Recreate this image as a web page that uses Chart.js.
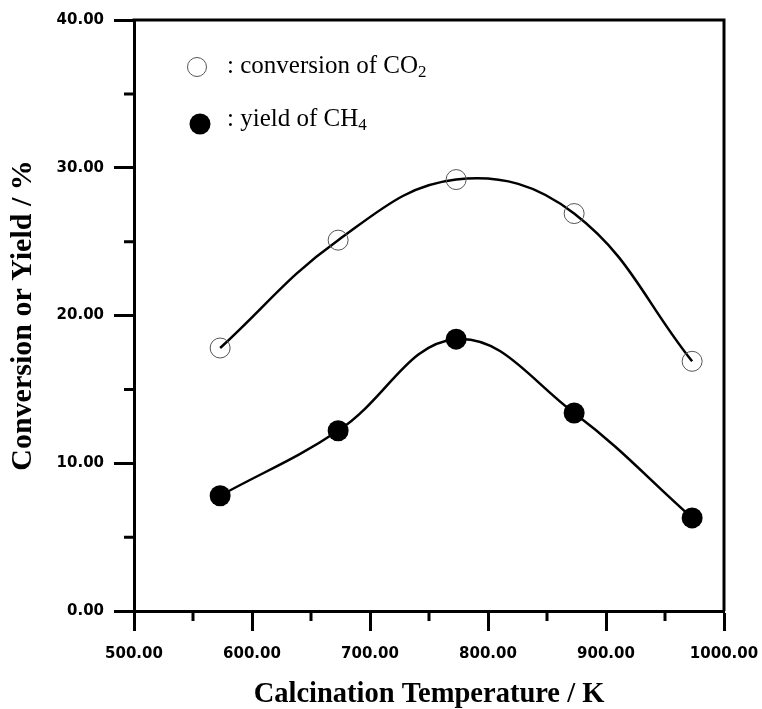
<!DOCTYPE html>
<html lang="en">
<head>
  <meta charset="UTF-8">
  <title>Conversion and Yield vs Calcination Temperature</title>
  <style>
    body {
      margin: 0;
      background: #fff;
    }
    #chart {
      display: block;
    }
  </style>
</head>
<body>
  <canvas id="chart" width="762" height="709"></canvas>

  <script src="https://cdn.jsdelivr.net/npm/chart.js"></script>
  <script>
    // calcination temperature (K) and the measured values (%)
    const temperatures = [573, 673, 773, 873, 973];
    const co2Conversion = [17.8, 25.1, 29.2, 26.9, 16.9];
    const ch4Yield = [7.8, 12.2, 18.4, 13.4, 6.3];

    // axis ticks
    const xMajorTicks = [500, 600, 700, 800, 900, 1000];
    const xMinorTicks = [550, 650, 750, 850, 950];
    const yMajorTicks = [0, 10, 20, 30, 40];
    const yMinorTicks = [5, 15, 25, 35];

    // legend rows: main text + subscript
    const legendLabels = [': conversion of CO', ': yield of CH'];
    const legendSubs = ['2', '4'];

    const toPoints = (ys) => temperatures.map((t, i) => ({ x: t, y: ys[i] }));

    // small ticks between the labelled ones, plus the top / right sides of the box
    const frameAndMinorTicks = {
      id: 'frameAndMinorTicks',
      afterDraw(chart) {
        const { ctx, chartArea: a, scales } = chart;
        ctx.save();
        ctx.strokeStyle = '#000';
        ctx.lineWidth = 3;
        ctx.lineCap = 'butt';
        ctx.beginPath();
        ctx.moveTo(a.left - 1.5, a.top);
        ctx.lineTo(a.right, a.top);
        ctx.lineTo(a.right, a.bottom);
        xMinorTicks.forEach(v => {
          const px = scales.x.getPixelForValue(v);
          ctx.moveTo(px, a.bottom);
          ctx.lineTo(px, a.bottom + 10);
        });
        yMinorTicks.forEach(v => {
          const py = scales.y.getPixelForValue(v);
          ctx.moveTo(a.left - 10, py);
          ctx.lineTo(a.left, py);
        });
        ctx.stroke();
        ctx.restore();
      }
    };

    // legend inside the plot, drawn by hand because of the subscripts
    const insideLegend = {
      id: 'insideLegend',
      afterDraw(chart) {
        const { ctx } = chart;
        const rows = [
          { cx: 197, cy: 67, base: 73, filled: false },
          { cx: 200, cy: 124, base: 126, filled: true }
        ];
        ctx.save();
        rows.forEach((r, i) => {
          ctx.beginPath();
          ctx.arc(r.cx, r.cy, r.filled ? 10.5 : 9.5, 0, Math.PI * 2);
          if (r.filled) {
            ctx.fillStyle = '#000';
            ctx.fill();
          } else {
            ctx.strokeStyle = '#555';
            ctx.lineWidth = 1;
            ctx.stroke();
          }
          ctx.fillStyle = '#000';
          ctx.textBaseline = 'alphabetic';
          ctx.textAlign = 'left';
          ctx.font = '25px "Liberation Serif", "Times New Roman", serif';
          ctx.fillText(legendLabels[i], 227, r.base);
          const w = ctx.measureText(legendLabels[i]).width;
          ctx.font = '17px "Liberation Serif", "Times New Roman", serif';
          ctx.fillText(legendSubs[i], 227 + w, r.base + 4);
        });
        ctx.restore();
      }
    };

    const tickFont = { family: 'DejaVu Sans', weight: 'bold', size: 15 };
    const titleFont = { family: 'Liberation Serif', weight: 'bold', size: 30, lineHeight: 1 };

    new Chart(document.getElementById('chart'), {
      type: 'scatter',
      data: {
        datasets: [
          {
            label: 'conversion of CO2',
            data: toPoints(co2Conversion),
            showLine: true,
            tension: 0.4,
            borderColor: '#000',
            borderWidth: 2.5,
            pointRadius: 10,
            pointBackgroundColor: 'rgba(0,0,0,0)',
            pointBorderColor: '#555',
            pointBorderWidth: 1,
            clip: false
          },
          {
            label: 'yield of CH4',
            data: toPoints(ch4Yield),
            showLine: true,
            tension: 0.4,
            borderColor: '#000',
            borderWidth: 2.5,
            pointRadius: 10.5,
            pointBackgroundColor: '#000',
            pointBorderWidth: 0,
            clip: false
          }
        ]
      },
      options: {
        responsive: false,
        animation: false,
        layout: { padding: { top: 20, right: 38, left: 0, bottom: 0 } },
        plugins: {
          legend: { display: false },
          tooltip: { enabled: false }
        },
        scales: {
          x: {
            type: 'linear',
            min: 500,
            max: 1000,
            afterBuildTicks: (s) => { s.ticks = xMajorTicks.map(v => ({ value: v })); },
            afterFit: (s) => {
              s.height = 98;
              s.paddingLeft = 0;
              s.paddingRight = 0;
            },
            ticks: {
              color: '#000',
              font: tickFont,
              padding: 14,
              maxRotation: 0,
              callback: (v) => Number(v).toFixed(2)
            },
            grid: {
              drawOnChartArea: false,
              tickLength: 20,
              tickWidth: 3,
              tickColor: '#000'
            },
            border: { color: '#000', width: 3 },
            title: {
              display: true,
              text: 'Calcination Temperature / K',
              color: '#000',
              font: { ...titleFont, size: 28.5 },
              padding: { top: 0, bottom: 0 }
            }
          },
          y: {
            type: 'linear',
            min: 0,
            max: 40,
            afterBuildTicks: (s) => { s.ticks = yMajorTicks.map(v => ({ value: v })); },
            afterFit: (s) => {
              s.width = 134;
              s.paddingTop = 0;
              s.paddingBottom = 0;
            },
            ticks: {
              color: '#000',
              font: tickFont,
              padding: 10,
              callback: (v) => Number(v).toFixed(2)
            },
            grid: {
              drawOnChartArea: false,
              tickLength: 20,
              tickWidth: 3,
              tickColor: '#000'
            },
            border: { color: '#000', width: 3 },
            title: {
              display: true,
              text: 'Conversion or Yield / %',
              color: '#000',
              font: titleFont,
              padding: { top: 8, bottom: 0 }
            }
          }
        }
      },
      plugins: [frameAndMinorTicks, insideLegend]
    });
  </script>
</body>
</html>
